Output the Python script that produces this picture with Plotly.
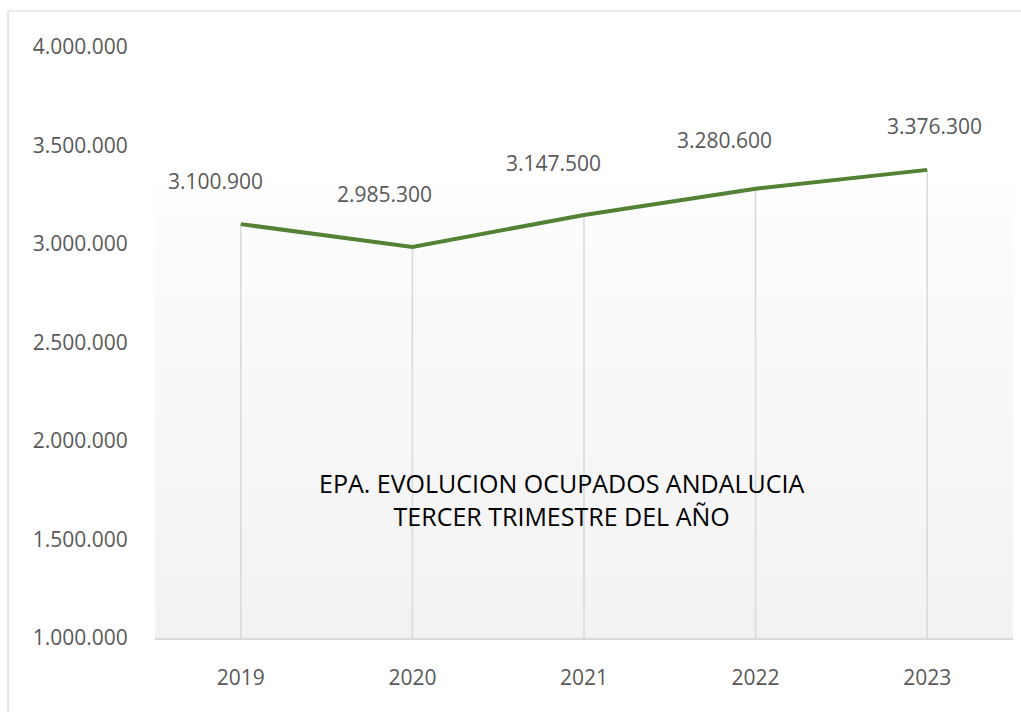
import plotly.graph_objects as go

years = ["2019", "2020", "2021", "2022", "2023"]
ocupados = [3100900, 2985300, 3147500, 3280600, 3376300]
y_ticks = [1000000, 1500000, 2000000, 2500000, 3000000, 3500000, 4000000]
title_lines = ["EPA. EVOLUCION OCUPADOS ANDALUCIA", "TERCER TRIMESTRE DEL AÑO"]

# label offsets (px) as placed in the original
label_dx = [-25, -28, -31, -31, 7]
label_dy = [43, 53, 52, 49, 44]

Y_MIN, Y_MAX = 1000000, 4000000
FONT = "Open Sans"
GREY_TXT = "#595959"
LINE_COL = "#548235"
DROP_COL = "#d9d9d9"

def fmt(v):
    return f"{v:,}".replace(",", ".")

fig = go.Figure()

# gradient plot-area background (bands)
n_bands = 30
g_top = 0.7614
for i in range(n_bands):
    y0 = g_top * i / n_bands
    y1 = g_top * (i + 1) / n_bands
    t = i / (n_bands - 1)
    c = round(242 + (253 - 242) * t)
    fig.add_shape(type="rect", xref="paper", yref="paper", x0=0, x1=1, y0=y0, y1=y1,
                  fillcolor=f"rgb({c},{c},{c})", line=dict(width=0), layer="below")

# drop lines
fig.add_trace(go.Scatter(
    x=years, y=ocupados, mode="markers", marker=dict(size=0.1, opacity=0),
    error_y=dict(type="data", symmetric=False, array=[0] * len(ocupados),
                 arrayminus=[v - Y_MIN for v in ocupados],
                 color=DROP_COL, thickness=1.5, width=0),
    hoverinfo="skip", showlegend=False))

fig.add_trace(go.Scatter(
    x=years, y=ocupados, mode="lines",
    line=dict(color=LINE_COL, width=4), showlegend=False))

for i, (v, dx, dy) in enumerate(zip(ocupados, label_dx, label_dy)):
    fig.add_annotation(x=i, y=v, xref="x", yref="y", text=fmt(v), showarrow=False,
                       xshift=dx, yshift=dy,
                       font=dict(family=FONT, size=21, color=GREY_TXT))

fig.add_annotation(xref="paper", yref="paper", x=(561 - 155) / 858, y=(638 - 499) / 591,
                   xanchor="center", yanchor="middle",
                   text="<br>".join(title_lines), showarrow=False, align="center",
                   font=dict(family=FONT, size=25, color="#000000"))

# outer chart border
fig.add_shape(type="rect", xref="paper", yref="paper",
              x0=-0.1713, x1=1.02, y0=-0.2, y1=1.0609,
              line=dict(color="#d9d9d9", width=1.2), fillcolor="rgba(0,0,0,0)")

fig.update_layout(
    width=1021, height=712,
    margin=dict(l=155, r=8, t=47, b=74),
    paper_bgcolor="white", plot_bgcolor="white",
    separators=",.",
    font=dict(family=FONT, color=GREY_TXT),
    xaxis=dict(type="category", range=[-0.5, 4.5], showgrid=False, zeroline=False,
               showline=True, linecolor=DROP_COL, linewidth=1.5,
               ticks="outside", ticklen=20, tickcolor="rgba(0,0,0,0)",
               tickfont=dict(family=FONT, size=21, color=GREY_TXT)),
    yaxis=dict(range=[Y_MIN, Y_MAX], tickvals=y_ticks, ticktext=[fmt(v) for v in y_ticks],
               showgrid=False, zeroline=False, showline=False,
               ticks="outside", ticklen=22, tickcolor="rgba(0,0,0,0)",
               tickfont=dict(family=FONT, size=21, color=GREY_TXT)),
)

fig.write_html("out.html", config={"displayModeBar": False},
               post_script="document.body.style.margin='0';document.body.style.overflow='hidden';")
